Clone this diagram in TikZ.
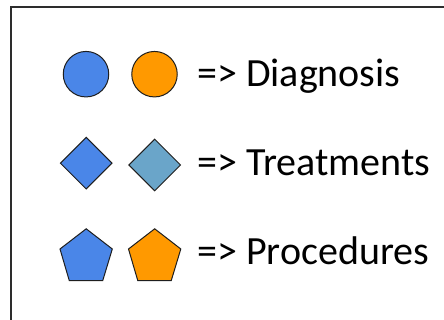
\documentclass[tikz,border=0pt]{standalone}
\usepackage{fontspec}
\setmainfont{Carlito}
\usetikzlibrary{shapes.geometric}
\definecolor{gblue}{RGB}{74,134,232}
\definecolor{gorange}{RGB}{255,153,0}
\definecolor{gsteel}{RGB}{106,165,201}
\definecolor{edge}{RGB}{30,30,30}
\definecolor{framec}{RGB}{45,45,45}
\begin{document}
\begin{tikzpicture}[x=1pt,y=-1pt,
  sym/.style={draw=edge,line width=1pt,inner sep=0pt},
  circ/.style={sym,circle,minimum size=45.5pt},
  dia/.style={sym,diamond,minimum width=52pt,minimum height=52pt},
  lbl/.style={anchor=base west,inner sep=0pt,font=\fontsize{40}{40}\selectfont}]
\useasboundingbox (0,0) rectangle (444,320);
\draw[line width=1.8pt,color=framec] (10.7,330) -- (10.7,7.3) -- (460,7.3);
\node[circ,fill=gblue] (c1) at (86,74.2) {};
\node[circ,fill=gorange] (c2) at (154.5,74.2) {};
\node[dia,fill=gblue] (d1) at (86.2,163.2) {};
\node[dia,fill=gsteel] (d2) at (154.7,165) {};
\draw[sym,fill=gblue,line join=miter] (86.2,228.8) -- (112.3,249) -- (102.7,280.7) -- (69.3,280.7) -- (60,249) -- cycle;
\draw[sym,fill=gorange,line join=miter] (154.7,228.8) -- (180.8,249) -- (171.2,280.7) -- (137.8,280.7) -- (128.5,249) -- cycle;
\node[lbl] (t1) at (197,86.5) {=> Diagnosis};
\node[lbl] (t2) at (197,175.5) {=> Treatments};
\node[lbl] (t3) at (197,264.5) {=> Procedures};
\end{tikzpicture}
\end{document}
